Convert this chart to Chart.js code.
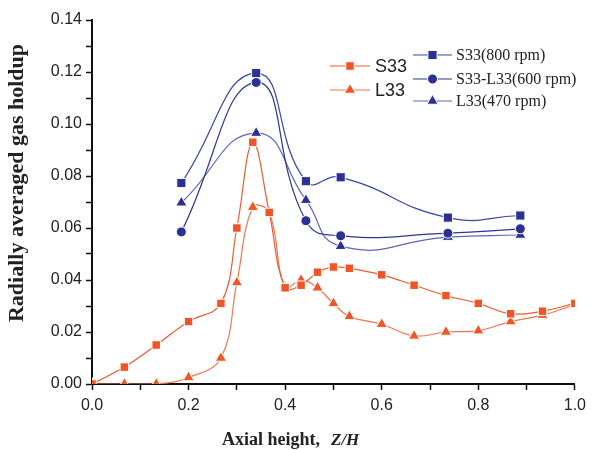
<!DOCTYPE html>
<html>
<head>
<meta charset="utf-8">
<script src="https://cdn.jsdelivr.net/npm/chart.js@4"></script>
<style>
  body { margin: 0; background: #fff; }
</style>
</head>
<body>
<canvas id="holdupChart" width="592" height="450"></canvas>
<script>
// axial positions, Z/H
const zFine = [0, 0.067, 0.133, 0.2, 0.267, 0.3, 0.333, 0.367, 0.4, 0.433, 0.467, 0.5, 0.533, 0.6, 0.667, 0.733, 0.8, 0.867, 0.933, 1.0];
const zCoarse = [0.185, 0.34, 0.443, 0.515, 0.737, 0.887];

// radially averaged gas holdup
const s33 = [0, 0.0065, 0.015, 0.024, 0.031, 0.060, 0.093, 0.066, 0.037, 0.038, 0.043, 0.045, 0.0445, 0.042, 0.038, 0.034, 0.031, 0.027, 0.028, 0.031];
const l33 = [0, 0, 0, 0.0025, 0.010, 0.039, 0.068, 0.066, 0.037, 0.040, 0.037, 0.031, 0.026, 0.023, 0.0185, 0.020, 0.0205, 0.024, 0.0265, 0.0305];
const s33At800 = [0.0773, 0.1196, 0.078, 0.0795, 0.064, 0.0648];
const s33l33At600 = [0.0585, 0.116, 0.0628, 0.057, 0.058, 0.0597];
const l33At470 = [0.0697, 0.0965, 0.0707, 0.053, 0.0565, 0.0573];

const seriesLabels = ["S33", "L33", "S33(800 rpm)", "S33-L33(600 rpm)", "L33(470 rpm)"];

const orange = "#EF5527";
const navy = "#2B3192";

const pairUp = (xs, ys) => xs.map((x, i) => ({ x: x, y: ys[i] }));

function makeSet(label, xs, ys, lineColor, fill, style, r, tension) {
  return {
    label: label,
    data: pairUp(xs, ys),
    borderColor: lineColor,
    backgroundColor: fill,
    borderWidth: 1.2,
    pointStyle: style,
    pointRadius: r,
    pointHoverRadius: r,
    pointBackgroundColor: fill,
    pointBorderColor: "#fff",
    pointBorderWidth: 1,
    tension: tension,
    fill: false,
  };
}

// legend + axis titles drawn by hand to match the original layout
const decorations = {
  id: "decorations",
  afterDatasetsDraw(chart) {
    const ctx = chart.ctx;
    const sets = chart.data.datasets;
    const drawItem = (ds, y, x0, x1, tx, font) => {
      ctx.save();
      ctx.strokeStyle = ds.borderColor;
      ctx.lineWidth = 1.2;
      ctx.beginPath();
      ctx.moveTo(x0, y);
      ctx.lineTo(x1, y);
      ctx.stroke();
      ctx.fillStyle = ds.pointBackgroundColor;
      ctx.strokeStyle = "#fff";
      ctx.lineWidth = 1;
      Chart.helpers.drawPoint(ctx, { pointStyle: ds.pointStyle, radius: ds.pointRadius, rotation: 0, borderWidth: 1 }, (x0 + x1) / 2, y);
      ctx.fillStyle = "#222";
      ctx.font = font;
      ctx.textBaseline = "middle";
      ctx.textAlign = "left";
      ctx.fillText(ds.label, tx, y + 1);
      ctx.restore();
    };
    drawItem(sets[0], 66, 330, 370, 375, '18px "Liberation Sans"');
    drawItem(sets[1], 90, 330, 370, 375, '18px "Liberation Sans"');
    drawItem(sets[2], 55, 413, 452, 456, '16px "Liberation Serif"');
    drawItem(sets[3], 79, 413, 452, 456, '16px "Liberation Serif"');
    drawItem(sets[4], 101, 413, 452, 456, '16px "Liberation Serif"');

    // y title
    ctx.save();
    ctx.fillStyle = "#222";
    ctx.font = 'bold 22px "Liberation Serif"';
    ctx.textAlign = "center";
    ctx.textBaseline = "middle";
    ctx.translate(17, 183);
    ctx.rotate(-Math.PI / 2);
    ctx.fillText("Radially averaged gas holdup", 0, 0);
    ctx.restore();

    // x title
    ctx.save();
    ctx.fillStyle = "#222";
    ctx.textBaseline = "alphabetic";
    ctx.textAlign = "left";
    ctx.font = 'bold 18px "Liberation Serif"';
    ctx.fillText("Axial height,", 222, 445);
    ctx.font = 'italic bold 17px "Liberation Serif"';
    ctx.fillText("Z/H", 331, 445);
    ctx.restore();
  },
};

const ctx = document.getElementById("holdupChart").getContext("2d");
new Chart(ctx, {
  type: "line",
  data: {
    datasets: [
      makeSet(seriesLabels[0], zFine, s33, "#EF5A2C", orange, "rect", 6, 0.4),
      makeSet(seriesLabels[1], zFine, l33, "#F37550", orange, "triangle", 6.5, 0.4),
      makeSet(seriesLabels[2], zCoarse, s33At800, "#3A46A6", navy, "rect", 6.5, 0.5),
      makeSet(seriesLabels[3], zCoarse, s33l33At600, "#2E3596", navy, "circle", 5, 0.5),
      makeSet(seriesLabels[4], zCoarse, l33At470, "#5C66B8", navy, "triangle", 6.5, 0.5),
    ],
  },
  options: {
    responsive: false,
    animation: false,
    devicePixelRatio: 1,
    layout: { padding: { top: 20, right: 15, left: 0, bottom: 0 } },
    plugins: {
      legend: { display: false },
      tooltip: { enabled: false },
    },
    scales: {
      x: {
        type: "linear",
        min: 0,
        max: 1,
        afterFit: (scale) => { scale.height = 66; },
        border: { color: "#111", width: 2 },
        grid: { drawOnChartArea: false, tickLength: 6, color: "#111", tickWidth: 1.5 },
        ticks: {
          stepSize: 0.1,
          autoSkip: false,
          maxRotation: 0,
          padding: 6,
          color: "#222",
          font: { family: "Liberation Sans", size: 16 },
          callback: (v) => (Math.round(v * 10) % 2 === 0 ? v.toFixed(1) : ""),
        },
      },
      y: {
        min: 0,
        max: 0.14,
        afterFit: (scale) => { scale.width = 92; },
        border: { color: "#111", width: 2 },
        grid: { drawOnChartArea: false, tickLength: 6, color: "#111", tickWidth: 1.5 },
        ticks: {
          stepSize: 0.01,
          autoSkip: false,
          padding: 4,
          color: "#222",
          font: { family: "Liberation Sans", size: 16 },
          callback: (v) => (Math.round(v * 100) % 2 === 0 ? v.toFixed(2) : ""),
        },
      },
    },
  },
  plugins: [decorations],
});
</script>
</body>
</html>
